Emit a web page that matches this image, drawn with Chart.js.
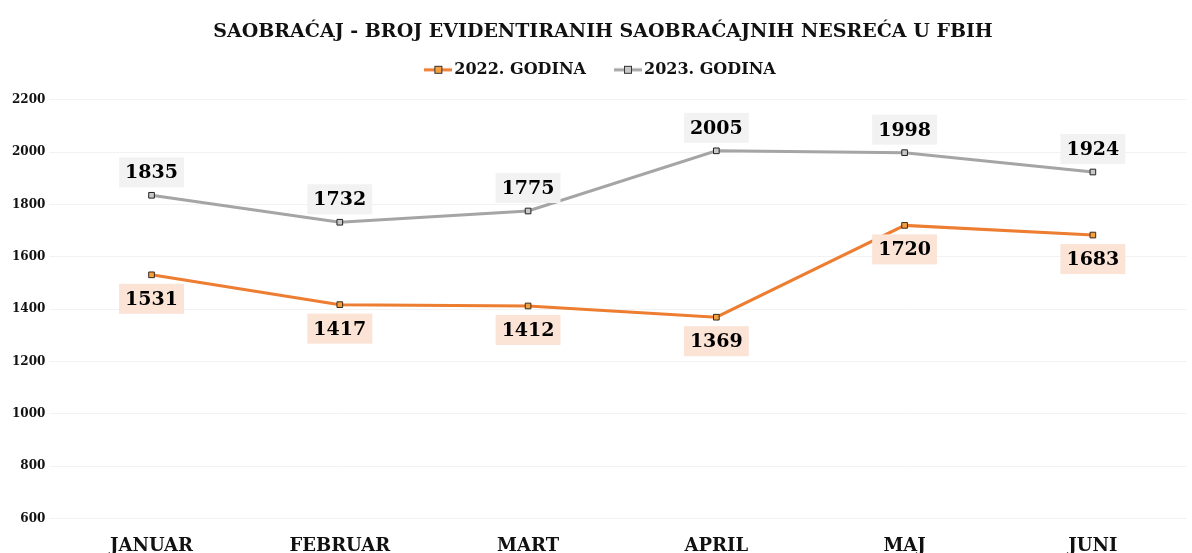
<!DOCTYPE html>
<html lang="bs">
<head>
    <meta charset="UTF-8">
    <title>Saobraćaj - broj evidentiranih saobraćajnih nesreća u FBiH</title>
    <script src="https://cdn.jsdelivr.net/npm/chart.js@4.4.0/dist/chart.umd.min.js"></script>
    <style>
        html, body { margin: 0; padding: 0; background: #fff; overflow: hidden; }
        /* taller than the window on purpose: month names get cut at the bottom like the original */
        #wrap { width: 1192px; height: 566px; }
    </style>
</head>
<body>
    <div id="wrap"><canvas id="accidentsChart"></canvas></div>

    <script>
        const months = ['JANUAR', 'FEBRUAR', 'MART', 'APRIL', 'MAJ', 'JUNI'];
        const accidents2022 = [1531, 1417, 1412, 1369, 1720, 1683];
        const accidents2023 = [1835, 1732, 1775, 2005, 1998, 1924];
        const yTicks = [600, 800, 1000, 1200, 1400, 1600, 1800, 2000, 2200];

        const serif = "'DejaVu Serif', 'Liberation Serif', serif";

        // small line + square swatch for the legend, like the Excel one
        function legendSwatch(line, fill) {
            const cv = document.createElement('canvas');
            cv.width = 28; cv.height = 10;
            const g = cv.getContext('2d');
            g.strokeStyle = line; g.lineWidth = 3;
            g.beginPath(); g.moveTo(0, 5); g.lineTo(28, 5); g.stroke();
            g.fillStyle = fill; g.fillRect(10, 1, 8, 8);
            g.strokeStyle = '#333'; g.lineWidth = 1; g.strokeRect(10.5, 1.5, 7, 7);
            return cv;
        }

        // extra room under the legend
        const legendMargin = {
            id: 'legendMargin',
            beforeInit(chart) {
                const fit = chart.legend.fit;
                chart.legend.fit = function () {
                    fit.bind(chart.legend)();
                    this.height += 12;
                };
            }
        };

        // value boxes: 2022 under the point, 2023 above it
        const valueLabels = {
            id: 'valueLabels',
            afterDatasetsDraw(chart) {
                const c = chart.ctx;
                c.save();
                c.font = 'bold 19px ' + serif;
                c.textAlign = 'center';
                c.textBaseline = 'middle';
                chart.data.datasets.forEach((ds, i) => {
                    const meta = chart.getDatasetMeta(i);
                    meta.data.forEach((pt, j) => {
                        const txt = String(ds.data[j]);
                        const w = c.measureText(txt).width + 12;
                        const h = 30;
                        const cy = ds.labelBelow ? pt.y + 24 : pt.y - 23;
                        c.fillStyle = ds.labelBg;
                        c.fillRect(pt.x - w / 2, cy - h / 2, w, h);
                        c.fillStyle = '#000';
                        c.fillText(txt, pt.x, cy + 1);
                    });
                });
                c.restore();
            }
        };

        new Chart(document.getElementById('accidentsChart'), {
            type: 'line',
            data: {
                labels: months,
                datasets: [{
                    label: '2022. GODINA',
                    data: accidents2022,
                    borderColor: '#ED7D31',
                    backgroundColor: '#F5A040',
                    pointBorderColor: '#3a2a1a',
                    labelBg: '#FBE3D6',
                    labelBelow: true,
                    borderWidth: 3,
                    pointStyle: 'rect',
                    pointRadius: 4,
                    pointBorderWidth: 1,
                    tension: 0
                }, {
                    label: '2023. GODINA',
                    data: accidents2023,
                    borderColor: '#A5A5A5',
                    backgroundColor: '#C8C8C8',
                    pointBorderColor: '#222',
                    labelBg: '#F2F2F2',
                    labelBelow: false,
                    borderWidth: 3,
                    pointStyle: 'rect',
                    pointRadius: 4,
                    pointBorderWidth: 1,
                    tension: 0
                }]
            },
            options: {
                responsive: true,
                maintainAspectRatio: false,
                animation: false,
                layout: { padding: { left: 8, right: -6, top: 15, bottom: 0 } },
                plugins: {
                    title: {
                        display: true,
                        text: 'SAOBRAĆAJ - BROJ EVIDENTIRANIH SAOBRAĆAJNIH NESREĆA U FBIH',
                        color: '#111',
                        font: { family: serif, size: 19, weight: 'bold' },
                        padding: { top: 6, bottom: 0 }
                    },
                    legend: {
                        display: true,
                        position: 'top',
                        labels: {
                            color: '#111',
                            font: { family: serif, size: 16, weight: 'bold' },
                            usePointStyle: true,
                            padding: 18,
                            generateLabels(chart) {
                                return chart.data.datasets.map((ds, i) => ({
                                    text: i === 0 ? ds.label + '\u2002\u2002' : ds.label,
                                    fontColor: '#111',
                                    pointStyle: legendSwatch(ds.borderColor, ds.backgroundColor),
                                    datasetIndex: i,
                                    hidden: false,
                                    lineWidth: 0
                                }));
                            }
                        }
                    },
                    tooltip: { enabled: false }
                },
                scales: {
                    x: {
                        offset: true,
                        grid: { display: false },
                        border: { display: false },
                        ticks: {
                            color: '#111',
                            font: { family: serif, size: 18, weight: 'bold' },
                            padding: 9
                        }
                    },
                    y: {
                        min: 600,
                        max: 2200,
                        afterBuildTicks(axis) {
                            axis.ticks = yTicks.map(v => ({ value: v }));
                        },
                        grid: { color: '#F2F2F2', lineWidth: 1 },
                        border: { display: false },
                        ticks: {
                            color: '#111',
                            font: { family: serif, size: 12, weight: 'bold' },
                            padding: 4,
                            callback: v => String(v)
                        }
                    }
                }
            },
            plugins: [legendMargin, valueLabels]
        });
    </script>
</body>
</html>
